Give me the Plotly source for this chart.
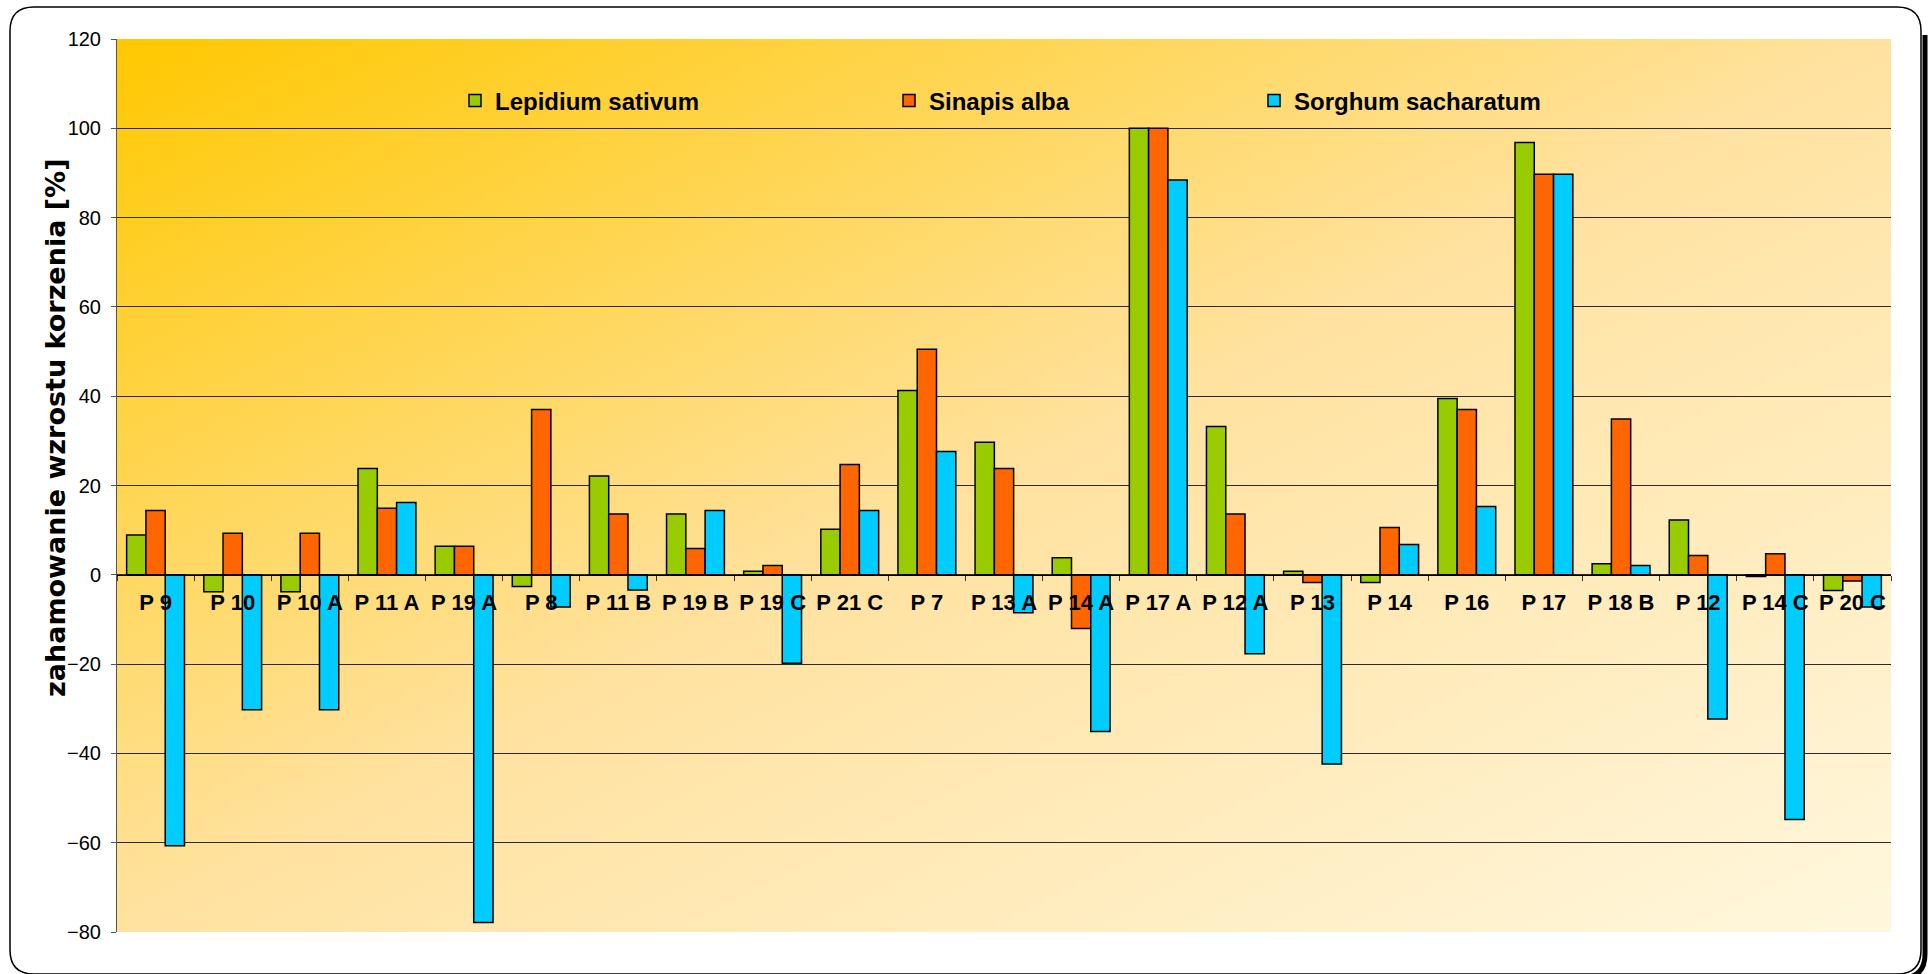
import base64
import plotly.graph_objects as go

# Sample identifiers along the category axis
categories = ["P 9", "P 10", "P 10 A", "P 11 A", "P 19 A", "P 8", "P 11 B", "P 19 B",
              "P 19 C", "P 21 C", "P 7", "P 13 A", "P 14 A", "P 17 A", "P 12 A", "P 13",
              "P 14", "P 16", "P 17", "P 18 B", "P 12", "P 14 C", "P 20 C"]

# Root growth inhibition [%] per test plant
lepidium = [8.9, -3.8, -3.8, 23.8, 6.4, -2.6, 22.1, 13.6, 0.8, 10.2, 41.3, 29.7, 3.8,
            100.0, 33.2, 0.8, -1.7, 39.5, 96.8, 2.5, 12.3, -0.4, -3.5]
sinapis = [14.4, 9.3, 9.3, 14.9, 6.4, 37.0, 13.6, 5.9, 2.1, 24.7, 50.5, 23.8, -12.0,
           100.0, 13.6, -1.7, 10.6, 37.0, 89.7, 34.9, 4.3, 4.7, -1.4]
sorghum = [-60.7, -30.2, -30.2, 16.2, -77.9, -7.2, -3.4, 14.4, -19.8, 14.4, 27.6, -8.5,
           -35.1, 88.4, -17.7, -42.4, 6.8, 15.3, 89.7, 2.1, -32.3, -54.8, -7.2]

series_names = ["Lepidium sativum", "Sinapis alba", "Sorghum sacharatum"]
series_colors = ["#99CC00", "#FF6600", "#00CCFF"]
y_ticks = [-80, -60, -40, -20, 0, 20, 40, 60, 80, 100, 120]

# Page geometry (pixels)
FIG_W, FIG_H = 1932, 974
M_L, M_R, M_T, M_B = 117, 41, 39, 42
PLOT_W = FIG_W - M_L - M_R
PLOT_H = FIG_H - M_T - M_B


def px(x):
    return (x - M_L) / PLOT_W


def py(y):
    return (FIG_H - M_B - y) / PLOT_H


def rounded_rect(l, t, r, b, rad):
    return (f"M {px(l + rad)},{py(t)} L {px(r - rad)},{py(t)} "
            f"Q {px(r)},{py(t)} {px(r)},{py(t + rad)} "
            f"L {px(r)},{py(b - rad)} Q {px(r)},{py(b)} {px(r - rad)},{py(b)} "
            f"L {px(l + rad)},{py(b)} Q {px(l)},{py(b)} {px(l)},{py(b - rad)} "
            f"L {px(l)},{py(t + rad)} Q {px(l)},{py(t)} {px(l + rad)},{py(t)} Z")


def shadow_path(l, t, r, b, rad, off):
    rr, bb = r + off, b + off
    return (f"M {px(rr)},{py(t + rad + off)} L {px(rr)},{py(bb - rad)} "
            f"Q {px(rr)},{py(bb)} {px(rr - rad)},{py(bb)} L {px(l + rad + off)},{py(bb)}")


# Diagonal gold-to-cream background for the plotting area
svg = ('<svg xmlns="http://www.w3.org/2000/svg" width="100" height="100" '
       'viewBox="0 0 100 100" preserveAspectRatio="none">'
       '<defs><linearGradient id="g" x1="0" y1="0" x2="1" y2="1">'
       '<stop offset="0" stop-color="#FFC800"/>'
       '<stop offset="0.5" stop-color="#FFE2A0"/>'
       '<stop offset="1" stop-color="#FFF7DE"/>'
       '</linearGradient></defs>'
       '<rect x="0" y="0" width="100" height="100" fill="url(#g)"/></svg>')
bg_uri = "data:image/svg+xml;base64," + base64.b64encode(svg.encode()).decode()

fig = go.Figure()
legend_ids = ["legend", "legend2", "legend3"]
for name, vals, col, lg in zip(series_names, [lepidium, sinapis, sorghum],
                               series_colors, legend_ids):
    fig.add_trace(go.Bar(
        x=categories, y=vals, name=name, legend=lg, showlegend=True,
        marker=dict(color=col, line=dict(color="#000000", width=1.5)),
    ))

legend_font = dict(family="Liberation Sans, Arial, sans-serif", size=24,
                   color="#000000", weight="bold")
legend_y = py(101)
legend_common = dict(orientation="h", yanchor="middle", xanchor="left", y=legend_y,
                     bgcolor="rgba(0,0,0,0)", borderwidth=0, font=legend_font,
                     itemwidth=30, visible=True)

frame_l, frame_t, frame_r, frame_b, frame_rad = 10, 7, 1921, 974, 24

fig.update_layout(
    width=FIG_W, height=FIG_H,
    showlegend=True,
    margin=dict(l=M_L, r=M_R, t=M_T, b=M_B, pad=0),
    paper_bgcolor="#FFFFFF",
    plot_bgcolor="rgba(0,0,0,0)",
    barmode="group", bargap=0.25, bargroupgap=0,
    font=dict(family="Liberation Sans, Arial, sans-serif", color="#000000"),
    legend=dict(x=px(455), **legend_common),
    legend2=dict(x=px(889), **legend_common),
    legend3=dict(x=px(1254), **legend_common),
    xaxis=dict(
        anchor="free", position=(0 - y_ticks[0]) / (y_ticks[-1] - y_ticks[0]),
        showline=True, linecolor="#000000", linewidth=1.2,
        ticks="outside", tickson="boundaries", ticklen=5, tickcolor="#333333",
        tickfont=dict(family="Liberation Sans, Arial, sans-serif", size=22,
                      color="#000000", weight="bold"),
        ticklabelstandoff=8,
        showgrid=False, zeroline=False,
    ),
    yaxis=dict(
        range=[y_ticks[0], y_ticks[-1]], tickvals=y_ticks,
        showline=True, linecolor="#555555", linewidth=1,
        ticks="outside", ticklen=5, tickcolor="#555555",
        tickfont=dict(family="Liberation Sans, Arial, sans-serif", size=20, color="#000000"),
        ticklabelstandoff=6,
        showgrid=True, gridcolor="#2A2A2A", gridwidth=1,
        zeroline=False,
    ),
    images=[dict(source=bg_uri, xref="paper", yref="paper", x=0, y=1,
                 sizex=1, sizey=1, xanchor="left", yanchor="top",
                 sizing="stretch", layer="below")],
    shapes=[
        dict(type="path", xref="paper", yref="paper", layer="below",
             path=shadow_path(frame_l, frame_t, frame_r, frame_b, frame_rad, 4),
             line=dict(color="#000000", width=5)),
        dict(type="path", xref="paper", yref="paper", layer="below",
             path=rounded_rect(frame_l, frame_t, frame_r, frame_b, frame_rad),
             line=dict(color="#000000", width=1.5)),
    ],
    annotations=[dict(
        text="<b>zahamowanie wzrostu korzenia [%]</b>", textangle=-90,
        xref="paper", yref="paper", x=px(55), y=py(428),
        xanchor="center", yanchor="middle", showarrow=False,
        font=dict(family="DejaVu Sans, Verdana, sans-serif", size=27, color="#000000"),
    )],
)

fig.write_html("out.html")
